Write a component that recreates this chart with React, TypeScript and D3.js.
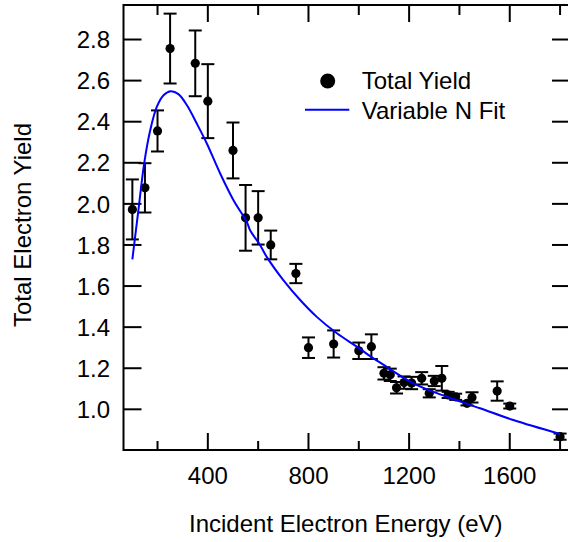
import React from 'react';
import * as d3 from 'd3';

const W = 568;
const H = 542;

// Measured data (Total Yield)
const energy = [100, 150, 200, 250, 350, 400, 500, 550, 600, 650, 750, 800, 900, 1000, 1050, 1100, 1125, 1150, 1180, 1210, 1250, 1280, 1300, 1330, 1355, 1385, 1430, 1450, 1550, 1600, 1800];
const yieldVals = [1.973, 2.078, 2.355, 2.756, 2.684, 2.5, 2.26, 1.932, 1.932, 1.8, 1.661, 1.3, 1.318, 1.285, 1.305, 1.175, 1.168, 1.105, 1.13, 1.128, 1.151, 1.078, 1.138, 1.151, 1.07, 1.061, 1.029, 1.058, 1.089, 1.016, 0.867];
const yieldErr = [0.146, 0.12, 0.1, 0.17, 0.16, 0.18, 0.136, 0.16, 0.13, 0.07, 0.047, 0.05, 0.066, 0.04, 0.06, 0.03, 0.03, 0.028, 0.03, 0.03, 0.03, 0.02, 0.025, 0.06, 0.015, 0.015, 0.01, 0.025, 0.047, 0.012, 0.015];

// Variable N Fit curve
const fitEnergy = [100, 124, 147, 171, 197, 224, 253, 283, 317, 356, 396, 449, 502, 555, 568, 608, 634, 700, 767, 833, 913, 992, 1058, 1085, 1217, 1350, 1482, 1614, 1800];
const fitYield = [1.73, 1.969, 2.197, 2.358, 2.472, 2.529, 2.548, 2.534, 2.48, 2.391, 2.294, 2.148, 2.018, 1.912, 1.872, 1.799, 1.742, 1.629, 1.532, 1.45, 1.37, 1.305, 1.248, 1.227, 1.126, 1.061, 1.005, 0.948, 0.88];

const xMajor = [400, 800, 1200, 1600];
const xMinor = [200, 600, 1000, 1400, 1800];
const yTicks = [1.0, 1.2, 1.4, 1.6, 1.8, 2.0, 2.2, 2.4, 2.6, 2.8];

const FONT = '"Liberation Sans", Arial, Helvetica, sans-serif';

export default function App() {
  const left = 123.5, right = 568, top = 5, bottom = 450;
  const x = d3.scaleLinear().domain([64.8, 1831.5]).range([left, right]);
  const y = d3.scaleLinear().domain([0.802, 2.968]).range([bottom, top]);

  const line = d3.line<number>()
    .x((_, i) => x(fitEnergy[i]))
    .y((d) => y(d))
    .curve(d3.curveCatmullRom.alpha(0.5));

  const fs = 24;
  const capW = 6.5;

  return (
    <div style={{ position: 'absolute', left: 0, top: 0 }}>
      <svg width={W} height={H} style={{ display: 'block', background: '#fff' }} fontFamily={FONT}>
        {/* frame */}
        <g stroke="#000" strokeWidth={2} fill="none">
          <line x1={left} y1={top} x2={right + 2} y2={top} />
          <line x1={left} y1={bottom} x2={right + 2} y2={bottom} />
          <line x1={left} y1={top - 1} x2={left} y2={bottom + 1} />
          <line x1={right + 1} y1={top} x2={right + 1} y2={bottom} />
        </g>
        {/* x ticks */}
        <g stroke="#000" strokeWidth={2}>
          {xMajor.map((v) => (
            <g key={'xM' + v}>
              <line x1={x(v)} x2={x(v)} y1={bottom} y2={bottom - 17} />
              <line x1={x(v)} x2={x(v)} y1={top} y2={top + 17} />
            </g>
          ))}
          {xMinor.map((v) => (
            <g key={'xm' + v}>
              <line x1={x(v)} x2={x(v)} y1={bottom} y2={bottom - 9} />
              <line x1={x(v)} x2={x(v)} y1={top} y2={top + 10} />
            </g>
          ))}
          {yTicks.map((v) => (
            <g key={'y' + v}>
              <line x1={left} x2={left + 18} y1={y(v)} y2={y(v)} />
              <line x1={right} x2={right - 16} y1={y(v)} y2={y(v)} />
            </g>
          ))}
        </g>
        {/* tick labels */}
        <g fontSize={fs} fill="#000">
          {xMajor.map((v) => (
            <text key={'xl' + v} x={x(v)} y={484} textAnchor="middle">{v}</text>
          ))}
          {yTicks.map((v) => (
            <text key={'yl' + v} x={110} y={y(v)} dy="0.36em" textAnchor="end">{v.toFixed(1)}</text>
          ))}
        </g>
        {/* axis titles */}
        <text x={(left + right) / 2} y={532} fontSize={fs} textAnchor="middle" fill="#000">Incident Electron Energy (eV)</text>
        <text transform="translate(31, 225) rotate(-90)" fontSize={fs} textAnchor="middle" fill="#000">Total Electron Yield</text>
        {/* error bars */}
        <g stroke="#000" strokeWidth={2}>
          {energy.map((e, i) => {
            const cx = x(e);
            const y1 = y(yieldVals[i] + yieldErr[i]);
            const y2 = y(yieldVals[i] - yieldErr[i]);
            return (
              <g key={'eb' + i}>
                <line x1={cx} x2={cx} y1={y1} y2={y2} />
                <line x1={cx - capW} x2={cx + capW} y1={y1} y2={y1} />
                <line x1={cx - capW} x2={cx + capW} y1={y2} y2={y2} />
              </g>
            );
          })}
        </g>
        {/* points */}
        <g fill="#000">
          {energy.map((e, i) => (
            <circle key={'p' + i} cx={x(e)} cy={y(yieldVals[i])} r={4.6} />
          ))}
        </g>
        {/* fit curve */}
        <path d={line(fitYield) || ''} fill="none" stroke="#0000ff" strokeWidth={2} />
        {/* legend */}
        <circle cx={327.7} cy={81} r={7.5} fill="#000" />
        <text x={361.7} y={89.3} fontSize={fs} fill="#000">Total Yield</text>
        <line x1={305} x2={349.3} y1={109.7} y2={109.7} stroke="#0000ff" strokeWidth={2} />
        <text x={361.7} y={119} fontSize={fs} fill="#000">Variable N Fit</text>
      </svg>
    </div>
  );
}
